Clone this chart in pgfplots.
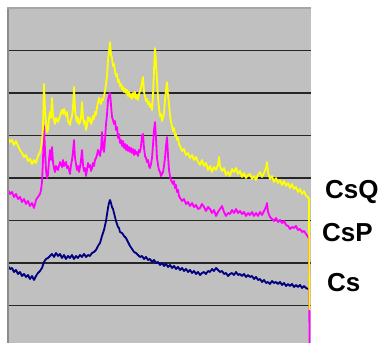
\documentclass[border=0pt]{standalone}
\usepackage{pgfplots}
\pgfplotsset{compat=1.18}
\usepackage{fontspec}
\setmainfont{Liberation Sans}
\definecolor{bgray}{HTML}{C0C0C0}
\definecolor{cyel}{HTML}{FFFF00}
\definecolor{cmag}{HTML}{FF00FF}
\definecolor{cnavy}{HTML}{000080}
\begin{document}
\begin{tikzpicture}
\begin{axis}[
  scale only axis, width=303pt, height=335pt,
  xmin=8, xmax=311, ymin=-343, ymax=-8,
  axis line style={draw=none},
  xtick=\empty,
  ytick={-305.5,-263,-220.5,-178,-135.5,-93,-50.5},
  yticklabels={}, major tick length=0pt,
  ymajorgrids, grid style={black!85, line width=1.1pt},
  axis background/.style={fill=bgray},
  clip mode=individual,
  every axis plot/.append style={line width=1.8pt, line join=round, mark=none},
]
% Cs
\addplot[cnavy] coordinates {
(8,-266)(10,-269)(12,-268)(14,-272)(16,-270)(18,-274)(20,-272)(22,-276)(24,-274)(26,-277)(28,-275)(30,-279)(32,-276)(34,-280)(36,-276)(38,-273)(40,-271)(42,-268)(44,-262)(46,-259)(48,-258)(50,-256)(52,-254)(54,-257)(56,-253)(58,-256)(60,-254)(62,-258)(64,-255)(66,-259)(68,-256)(70,-258)(72,-255)(74,-259)(76,-256)(78,-258)(80,-255)(82,-257)(84,-254)(86,-257)(88,-255)(90,-256)(92,-253)(94,-252)(96,-250)(98,-246)(100,-243)(102,-236)(104,-230)(106,-221)(108,-208)(109,-203)(110,-200)(111,-203)(112,-207)(113,-209)(114,-213)(115,-217)(116,-221)(117,-224)(118,-227)(119,-228)(120,-232)(122,-233)(124,-236)(126,-238)(128,-242)(130,-246)(132,-249)(134,-252)(136,-253)(138,-255)(140,-257)(142,-256)(144,-259)(146,-257)(148,-260)(150,-259)(152,-262)(154,-260)(156,-263)(158,-262)(160,-265)(162,-263)(164,-266)(166,-264)(168,-267)(170,-265)(172,-268)(174,-266)(176,-269)(178,-267)(180,-270)(182,-268)(184,-271)(186,-269)(188,-272)(190,-270)(192,-273)(194,-271)(196,-274)(198,-272)(200,-275)(202,-273)(204,-272)(206,-274)(208,-271)(210,-272)(212,-269)(214,-271)(216,-268)(218,-270)(220,-272)(222,-271)(224,-274)(226,-273)(228,-276)(230,-274)(232,-273)(234,-275)(236,-272)(238,-275)(240,-274)(242,-276)(244,-274)(246,-277)(248,-275)(250,-277)(252,-276)(254,-279)(256,-277)(258,-280)(260,-279)(262,-282)(264,-280)(266,-283)(268,-282)(270,-284)(272,-281)(274,-283)(276,-282)(278,-284)(280,-282)(282,-285)(284,-283)(286,-286)(288,-284)(290,-286)(292,-284)(294,-287)(296,-285)(298,-287)(300,-285)(302,-288)(304,-286)(306,-288)(308,-289)
};
% CsP
\addplot[cmag] coordinates {
(8,-190)(10,-194)(12,-192)(14,-197)(16,-194)(18,-199)(20,-197)(22,-202)(24,-199)(26,-204)(28,-201)(30,-206)(32,-203)(34,-208)(36,-200)(38,-197)(40,-194)(41,-190)(42,-182)(43,-160)(44,-126)(45,-150)(46,-170)(47,-178)(48,-175)(49,-160)(50,-150)(51,-160)(52,-147)(53,-162)(54,-168)(55,-172)(56,-166)(58,-170)(60,-162)(62,-167)(63,-160)(64,-166)(66,-162)(67,-168)(68,-166)(70,-174)(71,-165)(72,-160)(73,-152)(74,-140)(75,-158)(76,-164)(77,-170)(78,-166)(79,-172)(80,-167)(81,-160)(82,-150)(83,-165)(84,-171)(85,-168)(86,-176)(87,-170)(88,-163)(89,-167)(90,-165)(91,-171)(92,-168)(93,-163)(94,-166)(95,-160)(96,-158)(97,-155)(98,-150)(99,-152)(100,-156)(101,-150)(102,-132)(103,-148)(104,-152)(105,-140)(106,-124)(107,-115)(108,-100)(109,-96)(110,-93)(111,-105)(112,-117)(113,-120)(114,-124)(115,-121)(116,-130)(117,-127)(118,-138)(119,-134)(120,-143)(121,-140)(122,-146)(123,-141)(124,-148)(125,-144)(126,-150)(127,-145)(128,-151)(129,-147)(130,-152)(131,-148)(132,-153)(133,-149)(134,-155)(135,-150)(136,-154)(137,-152)(138,-156)(139,-150)(140,-152)(141,-146)(142,-136)(143,-134)(144,-148)(145,-156)(146,-158)(147,-162)(148,-160)(149,-166)(150,-168)(151,-164)(152,-158)(153,-145)(154,-130)(155,-122)(156,-138)(157,-158)(158,-165)(159,-170)(160,-172)(161,-176)(162,-174)(163,-172)(164,-166)(165,-158)(166,-146)(167,-137)(168,-155)(169,-170)(170,-176)(171,-180)(172,-182)(173,-184)(174,-181)(175,-188)(176,-185)(177,-192)(178,-190)(179,-196)(180,-198)(182,-201)(184,-199)(186,-204)(188,-202)(190,-206)(192,-203)(194,-207)(196,-205)(198,-209)(200,-208)(202,-204)(204,-207)(206,-211)(208,-207)(210,-209)(212,-213)(214,-210)(216,-216)(218,-212)(220,-209)(222,-206)(224,-212)(226,-216)(228,-213)(230,-214)(232,-210)(234,-213)(236,-209)(238,-213)(240,-211)(242,-214)(244,-212)(246,-216)(248,-213)(250,-215)(252,-212)(254,-216)(256,-213)(258,-216)(260,-212)(262,-215)(264,-211)(266,-207)(267,-203)(268,-212)(270,-217)(272,-219)(274,-221)(276,-218)(278,-222)(280,-220)(282,-223)(284,-221)(286,-225)(288,-226)(290,-229)(292,-227)(294,-228)(296,-226)(298,-230)(300,-229)(302,-232)(304,-231)(306,-234)(308,-237)(309,-238)(309.5,-343)
};
% CsQ
\addplot[cyel] coordinates {
(8,-138)(10,-142)(12,-140)(14,-145)(16,-141)(18,-146)(20,-150)(22,-153)(24,-157)(26,-155)(28,-161)(30,-159)(32,-164)(34,-160)(36,-163)(38,-156)(40,-152)(41,-148)(42,-141)(43,-128)(44,-84)(45,-110)(46,-122)(47,-132)(48,-130)(49,-118)(50,-112)(51,-118)(52,-98)(53,-116)(54,-120)(55,-124)(56,-118)(58,-122)(60,-116)(62,-110)(63,-114)(64,-109)(66,-116)(67,-112)(68,-121)(70,-125)(71,-119)(72,-116)(73,-108)(74,-87)(75,-110)(76,-118)(77,-122)(78,-117)(79,-124)(80,-122)(81,-118)(82,-102)(83,-118)(84,-124)(85,-121)(86,-130)(87,-126)(88,-117)(89,-121)(90,-118)(91,-124)(92,-121)(93,-116)(94,-119)(95,-112)(96,-115)(97,-107)(98,-103)(99,-98)(100,-101)(101,-104)(102,-99)(103,-100)(104,-96)(105,-91)(106,-84)(107,-76)(108,-60)(109,-52)(110,-42)(111,-55)(112,-58)(113,-66)(114,-64)(115,-72)(116,-76)(117,-74)(118,-82)(119,-80)(120,-86)(121,-84)(122,-89)(123,-87)(124,-92)(125,-89)(126,-93)(127,-90)(128,-96)(129,-92)(130,-97)(131,-94)(132,-99)(133,-93)(134,-97)(135,-92)(136,-99)(137,-95)(138,-100)(139,-94)(140,-91)(141,-88)(142,-82)(143,-77)(144,-92)(145,-96)(146,-101)(147,-99)(148,-104)(149,-102)(150,-107)(151,-104)(152,-110)(153,-96)(154,-70)(155,-48)(156,-62)(157,-80)(158,-98)(159,-108)(160,-116)(161,-114)(162,-121)(163,-118)(164,-113)(165,-100)(166,-90)(167,-82)(168,-95)(169,-104)(170,-115)(171,-122)(172,-126)(173,-131)(174,-128)(175,-136)(176,-134)(177,-140)(178,-138)(179,-144)(180,-146)(182,-151)(184,-149)(186,-155)(188,-153)(190,-158)(192,-155)(194,-160)(196,-157)(198,-162)(200,-165)(202,-160)(204,-166)(206,-163)(208,-170)(210,-166)(212,-172)(214,-167)(216,-170)(218,-165)(219,-157)(220,-166)(222,-171)(224,-168)(226,-175)(228,-172)(230,-176)(232,-169)(234,-172)(236,-168)(238,-174)(240,-171)(242,-177)(244,-173)(246,-178)(248,-175)(250,-174)(252,-179)(254,-176)(256,-180)(258,-175)(260,-172)(262,-177)(264,-173)(266,-168)(267,-162)(268,-172)(270,-179)(272,-176)(274,-182)(276,-178)(278,-183)(280,-180)(282,-185)(284,-181)(286,-186)(288,-183)(290,-188)(292,-184)(294,-189)(296,-187)(298,-192)(300,-189)(302,-194)(304,-191)(306,-196)(308,-197)(309,-199)(309.5,-310)
};
\draw[black!45, line width=2pt] (axis cs:8,-343) -- (axis cs:8,-8);
\draw[black!35, line width=1.5pt] (axis cs:7,-8) -- (axis cs:311,-8);
\node[anchor=base west, inner sep=0pt, font=\fontsize{26}{30}\selectfont\bfseries] at (axis cs:325,-199) {CsQ};
\node[anchor=base west, inner sep=0pt, font=\fontsize{26}{30}\selectfont\bfseries] at (axis cs:322,-242) {CsP};
\node[anchor=base west, inner sep=0pt, font=\fontsize{26}{30}\selectfont\bfseries] at (axis cs:327,-292) {Cs};
\coordinate (bl) at (axis cs:0,-343);
\coordinate (tr) at (axis cs:389,0);
\end{axis}
\pgfresetboundingbox
\path[use as bounding box] (bl) rectangle (tr);
\end{tikzpicture}
\end{document}
